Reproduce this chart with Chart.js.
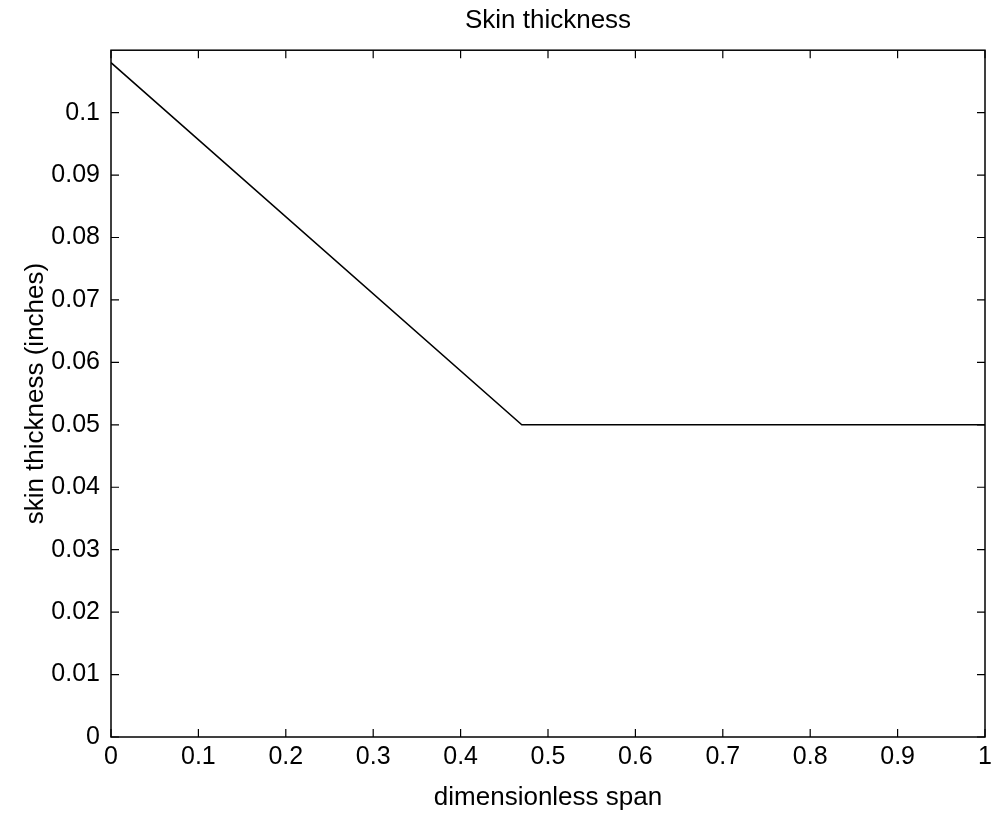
<!DOCTYPE html>
<html>
<head>
<meta charset="utf-8">
<script src="https://cdn.jsdelivr.net/npm/chart.js@4/dist/chart.umd.min.js"></script>
<style>
  html, body { margin: 0; padding: 0; background: #fff; }
  #wrap { width: 992px; height: 814px; }
</style>
</head>
<body>
<div id="wrap"><canvas id="grafico"></canvas></div>
<script>
// datos
const spanValues = [0, 0.47, 1];
const thicknessValues = [0.108, 0.05, 0.05];
const xTickValues = [0, 0.1, 0.2, 0.3, 0.4, 0.5, 0.6, 0.7, 0.8, 0.9, 1];
const yTickValues = [0, 0.01, 0.02, 0.03, 0.04, 0.05, 0.06, 0.07, 0.08, 0.09, 0.1];

const FONT = 'Liberation Sans, Arial, Helvetica, sans-serif';

// caja y marcas de division hacia adentro (estilo matlab)
const boxTicks = {
    id: 'boxTicks',
    afterDraw(chart) {
        const ctx = chart.ctx;
        const a = chart.chartArea;
        const xs = chart.scales.x, ys = chart.scales.y;
        const len = 8;
        ctx.save();
        ctx.strokeStyle = '#000';
        ctx.lineWidth = 1.5;
        ctx.strokeRect(a.left, a.top, a.right - a.left, a.bottom - a.top);
        ctx.lineWidth = 1.2;
        ctx.beginPath();
        xTickValues.forEach(v => {
            const px = xs.getPixelForValue(v);
            ctx.moveTo(px, a.bottom); ctx.lineTo(px, a.bottom - len);
            ctx.moveTo(px, a.top); ctx.lineTo(px, a.top + len);
        });
        yTickValues.forEach(v => {
            const py = ys.getPixelForValue(v);
            ctx.moveTo(a.left, py); ctx.lineTo(a.left + len, py);
            ctx.moveTo(a.right, py); ctx.lineTo(a.right - len, py);
        });
        ctx.stroke();
        ctx.restore();
    }
};

const ctx = document.getElementById('grafico').getContext('2d');
new Chart(ctx, {
    type: 'scatter',
    data: {
        datasets: [{
            data: spanValues.map((x, i) => ({ x: x, y: thicknessValues[i] })),
            showLine: true,
            borderColor: '#000',
            borderWidth: 1.5,
            pointRadius: 0,
            fill: false
        }]
    },
    options: {
        responsive: true,
        maintainAspectRatio: false,
        animation: false,
        layout: { padding: { left: 0, right: 7, top: 0, bottom: 0 } },
        plugins: {
            legend: { display: false },
            tooltip: { enabled: false },
            title: {
                display: true,
                fullSize: false,
                text: 'Skin thickness',
                color: '#000',
                font: { family: FONT, size: 26, weight: 'normal' },
                padding: { top: 5, bottom: 14 }
            }
        },
        scales: {
            x: {
                type: 'linear',
                min: 0,
                max: 1,
                afterBuildTicks: s => { s.ticks = xTickValues.map(v => ({ value: v })); },
                afterFit: s => { s.height = 77; s.paddingLeft = 0; s.paddingRight = 0; },
                ticks: {
                    color: '#000',
                    font: { family: FONT, size: 25 },
                    padding: 5,
                    maxRotation: 0,
                    callback: v => String(v)
                },
                grid: { drawOnChartArea: false, drawTicks: false },
                border: { display: false },
                title: {
                    display: true,
                    text: 'dimensionless span',
                    color: '#000',
                    font: { family: FONT, size: 26 },
                    padding: { top: 0, bottom: 1 }
                }
            },
            y: {
                type: 'linear',
                min: 0,
                max: 0.11,
                afterBuildTicks: s => { s.ticks = yTickValues.map(v => ({ value: v })); },
                afterFit: s => { s.width = 111; s.paddingTop = 0; s.paddingBottom = 0; },
                ticks: {
                    color: '#000',
                    font: { family: FONT, size: 25 },
                    padding: 11,
                    callback: v => String(v)
                },
                grid: { drawOnChartArea: false, drawTicks: false },
                border: { display: false },
                title: {
                    display: true,
                    text: 'skin thickness (inches)',
                    color: '#000',
                    font: { family: FONT, size: 26 },
                    padding: { top: 20, bottom: 0 }
                }
            }
        }
    },
    plugins: [boxTicks]
});
</script>
</body>
</html>
